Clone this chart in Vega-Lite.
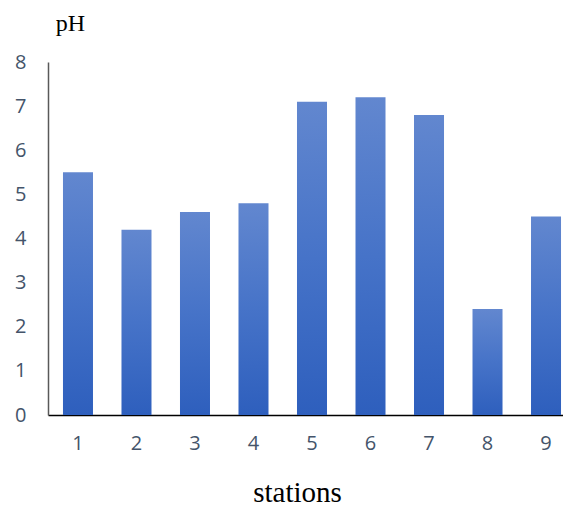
{
  "$schema": "https://vega.github.io/schema/vega-lite/v6.json",
  "autosize": "none",
  "width": 515,
  "height": 353,
  "padding": {"left": 48, "top": 62, "right": 0, "bottom": 92},
  "background": "white",
  "config": {"view": {"stroke": null}},
  "data": {
    "values": [
      {"station": "1", "pH": 5.5},
      {"station": "2", "pH": 4.2},
      {"station": "3", "pH": 4.6},
      {"station": "4", "pH": 4.8},
      {"station": "5", "pH": 7.1},
      {"station": "6", "pH": 7.2},
      {"station": "7", "pH": 6.8},
      {"station": "8", "pH": 2.4},
      {"station": "9", "pH": 4.5}
    ]
  },
  "mark": {
    "type": "bar",
    "clip": false,
    "fill": {
      "gradient": "linear",
      "x1": 0, "y1": 0, "x2": 0, "y2": 1,
      "stops": [
        {"offset": 0, "color": "#6287cf"},
        {"offset": 0.5, "color": "#4673c8"},
        {"offset": 1, "color": "#2e5fbd"}
      ]
    }
  },
  "encoding": {
    "x": {
      "field": "station",
      "type": "ordinal",
      "sort": null,
      "scale": {"range": [0, 528], "paddingInner": 0.487, "paddingOuter": 0.256},
      "axis": {
        "title": "stations",
        "titleFont": "Liberation Serif",
        "titleFontSize": 29,
        "titleFontWeight": "normal",
        "titleColor": "#000000",
        "titleX": 249,
        "titleY": 86,
        "titleBaseline": "alphabetic",
        "titleAlign": "center",
        "labelAngle": 0,
        "labelFont": "Open Sans",
        "labelFontSize": 20,
        "labelColor": "#44546a",
        "labelPadding": 18,
        "ticks": false,
        "domainColor": "#000000",
        "domainWidth": 1.5
      }
    },
    "y": {
      "field": "pH",
      "type": "quantitative",
      "scale": {"domain": [0, 8], "nice": false},
      "axis": {
        "title": "pH",
        "titleFont": "Liberation Serif",
        "titleFontSize": 24,
        "titleFontWeight": "normal",
        "titleColor": "#000000",
        "titleAngle": 0,
        "titleX": 22,
        "titleY": -32,
        "titleAlign": "center",
        "titleBaseline": "alphabetic",
        "values": [0, 1, 2, 3, 4, 5, 6, 7, 8],
        "labelFont": "Open Sans",
        "labelFontSize": 20,
        "labelColor": "#44546a",
        "labelPadding": 22,
        "ticks": false,
        "grid": false,
        "domainColor": "#595959",
        "domainWidth": 1.5
      }
    }
  }
}
